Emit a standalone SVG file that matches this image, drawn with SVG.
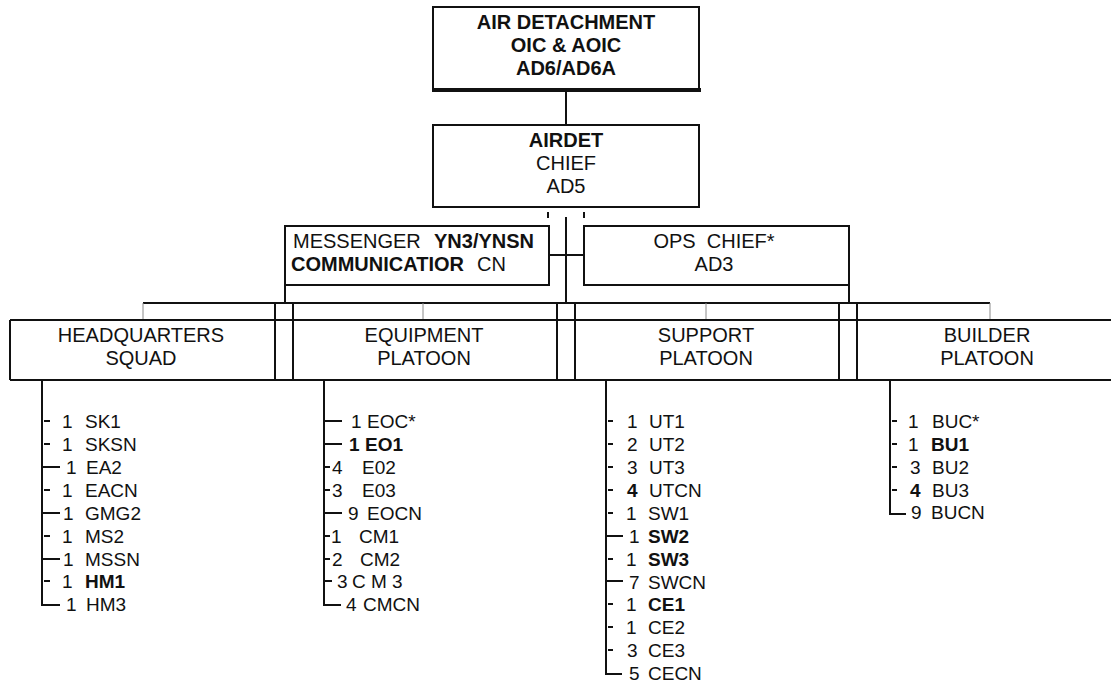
<svg xmlns="http://www.w3.org/2000/svg" width="1111" height="683" viewBox="0 0 1111 683">
<style>
.box{fill:#fff;stroke:#111;stroke-width:2}
.ln{stroke:#111;stroke-width:2;fill:none}
.thin{stroke:#8a8a8a;stroke-width:1;fill:none}
.t{font-family:"Liberation Sans",Arial,sans-serif;font-size:20px;fill:#111}
.c{text-anchor:middle}
.b{font-weight:bold}
.li{font-family:"Liberation Sans",Arial,sans-serif;font-size:19px;fill:#111}
</style>
<rect width="1111" height="683" fill="#fff"/>
<g id="connectors">
<line class="ln" x1="566" y1="90" x2="566" y2="125"/>
<line class="ln" x1="548" y1="212" x2="548" y2="218"/>
<line class="ln" x1="584" y1="212" x2="584" y2="218"/>
<line class="ln" x1="566" y1="217" x2="566" y2="303"/>
<line class="ln" x1="549" y1="255" x2="584" y2="255"/>
<line class="ln" x1="285" y1="285" x2="285" y2="303"/>
<line class="ln" x1="849" y1="285" x2="849" y2="303"/>
<line class="ln" x1="143" y1="303" x2="990" y2="303"/>
<line class="thin" x1="143" y1="303" x2="143" y2="320"/>
<line class="thin" x1="423" y1="303" x2="423" y2="320"/>
<line class="thin" x1="706" y1="303" x2="706" y2="320"/>
<line class="thin" x1="990" y1="303" x2="990" y2="320"/>
<line class="ln" x1="275" y1="303" x2="275" y2="380"/>
<line class="ln" x1="293" y1="303" x2="293" y2="380"/>
<line class="ln" x1="557" y1="303" x2="557" y2="380"/>
<line class="ln" x1="575" y1="303" x2="575" y2="380"/>
<line class="ln" x1="839" y1="303" x2="839" y2="380"/>
<line class="ln" x1="857" y1="303" x2="857" y2="380"/>
</g>
<g id="air-detachment">
<rect class="box" x="433" y="7" width="266" height="83"/>
<line class="ln" x1="432" y1="90" x2="701" y2="90" style="stroke-width:4"/>
<text class="t c b" x="566" y="29">AIR DETACHMENT</text>
<text class="t c b" x="566" y="52">OIC &amp; AOIC</text>
<text class="t c b" x="566" y="75">AD6/AD6A</text>
</g>
<g id="airdet-chief">
<rect class="box" x="433" y="125" width="266" height="82"/>
<text class="t c b" x="566" y="147">AIRDET</text>
<text class="t c" x="566" y="170">CHIEF</text>
<text class="t c" x="566" y="193">AD5</text>
</g>
<g id="messenger">
<rect class="box" x="285" y="226" width="264" height="59"/>
<text class="t" x="293" y="248">MESSENGER <tspan class="b" x="434">YN3/YNSN</tspan></text>
<text class="t" x="291" y="271"><tspan class="b">COMMUNICATIOR</tspan><tspan x="477">CN</tspan></text>
</g>
<g id="ops-chief">
<rect class="box" x="584" y="226" width="265" height="59"/>
<text class="t c" x="714" y="248" style="white-space:pre">OPS  CHIEF*</text>
<text class="t c" x="714" y="271">AD3</text>
</g>
<g id="platoon-row">
<line class="ln" x1="10" y1="320" x2="1111" y2="320"/>
<line class="ln" x1="10" y1="380" x2="1111" y2="380"/>
<line class="ln" x1="10" y1="320" x2="10" y2="380"/>
</g>
<g id="headquarters-squad">
<text class="t c" x="141" y="342">HEADQUARTERS</text>
<text class="t c" x="141" y="365">SQUAD</text>
</g>
<g id="equipment-platoon">
<text class="t c" x="424" y="342">EQUIPMENT</text>
<text class="t c" x="424" y="365">PLATOON</text>
</g>
<g id="support-platoon">
<text class="t c" x="706" y="342">SUPPORT</text>
<text class="t c" x="706" y="365">PLATOON</text>
</g>
<g id="builder-platoon">
<text class="t c" x="987" y="342">BUILDER</text>
<text class="t c" x="987" y="365">PLATOON</text>
</g>
<g id="hq-list">
<path class="ln" d="M42 380V605H60"/>
<path class="ln" d="M44 421h6M44 444h6M42 467h18M44 490h6M42 513h18M44 536h6M42 559h18M44 581h6"/>
<text class="li" x="62" y="428">1<tspan x="85">SK1</tspan></text>
<text class="li" x="62" y="451">1<tspan x="85">SKSN</tspan></text>
<text class="li" x="66" y="474">1<tspan x="86">EA2</tspan></text>
<text class="li" x="62" y="497">1<tspan x="85">EACN</tspan></text>
<text class="li" x="63" y="520">1<tspan x="85">GMG2</tspan></text>
<text class="li" x="62" y="543">1<tspan x="85">MS2</tspan></text>
<text class="li" x="63" y="566">1<tspan x="85">MSSN</tspan></text>
<text class="li" x="62" y="588">1<tspan class="b" x="85">HM1</tspan></text>
<text class="li" x="66" y="611">1<tspan x="86">HM3</tspan></text>
</g>
<g id="equipment-list">
<path class="ln" d="M324 380V605H341"/>
<path class="ln" d="M325 421h17M325 444h17M324 467h6M324 490h6M325 513h17M324 536h6M324 559h6M325 581h7"/>
<text class="li" x="351" y="428">1<tspan x="367">EOC*</tspan></text>
<text class="li b" x="349" y="451">1<tspan x="365">EO1</tspan></text>
<text class="li" x="332" y="474">4<tspan x="362">E02</tspan></text>
<text class="li" x="332" y="497">3<tspan x="362">E03</tspan></text>
<text class="li" x="348" y="520">9<tspan x="367">EOCN</tspan></text>
<text class="li" x="331" y="543">1<tspan x="359">CM1</tspan></text>
<text class="li" x="332" y="566">2<tspan x="360">CM2</tspan></text>
<text class="li" x="337" y="588" style="white-space:pre">3<tspan x="352">C M 3</tspan></text>
<text class="li" x="346" y="611">4<tspan x="363">CMCN</tspan></text>
</g>
<g id="support-list">
<path class="ln" d="M606 380V674H622"/>
<path class="ln" d="M608 421h5M608 444h5M608 467h5M608 490h5M608 513h5M606 536h17M608 559h5M606 581h17M608 604h5M608 627h5M608 650h5"/>
<text class="li" x="627" y="428">1<tspan x="649">UT1</tspan></text>
<text class="li" x="627" y="451">2<tspan x="649">UT2</tspan></text>
<text class="li" x="627" y="474">3<tspan x="649">UT3</tspan></text>
<text class="li" x="627" y="497"><tspan class="b">4</tspan><tspan x="649">UTCN</tspan></text>
<text class="li" x="626" y="520">1<tspan x="648">SW1</tspan></text>
<text class="li" x="629" y="543">1<tspan class="b" x="648">SW2</tspan></text>
<text class="li" x="626" y="566">1<tspan class="b" x="648">SW3</tspan></text>
<text class="li" x="629" y="589">7<tspan x="648">SWCN</tspan></text>
<text class="li" x="626" y="611">1<tspan class="b" x="648">CE1</tspan></text>
<text class="li" x="626" y="634">1<tspan x="648">CE2</tspan></text>
<text class="li" x="627" y="657">3<tspan x="648">CE3</tspan></text>
<text class="li" x="629" y="680">5<tspan x="648">CECN</tspan></text>
</g>
<g id="builder-list">
<path class="ln" d="M890 380V514H906"/>
<path class="ln" d="M892 421h5M892 444h5M892 467h5M892 490h5"/>
<text class="li" x="908" y="428">1<tspan x="932">BUC*</tspan></text>
<text class="li" x="908" y="451">1<tspan class="b" x="931">BU1</tspan></text>
<text class="li" x="910" y="474">3<tspan x="932">BU2</tspan></text>
<text class="li" x="910" y="497"><tspan class="b">4</tspan><tspan x="932">BU3</tspan></text>
<text class="li" x="911" y="519">9<tspan x="931">BUCN</tspan></text>
</g>
</svg>
